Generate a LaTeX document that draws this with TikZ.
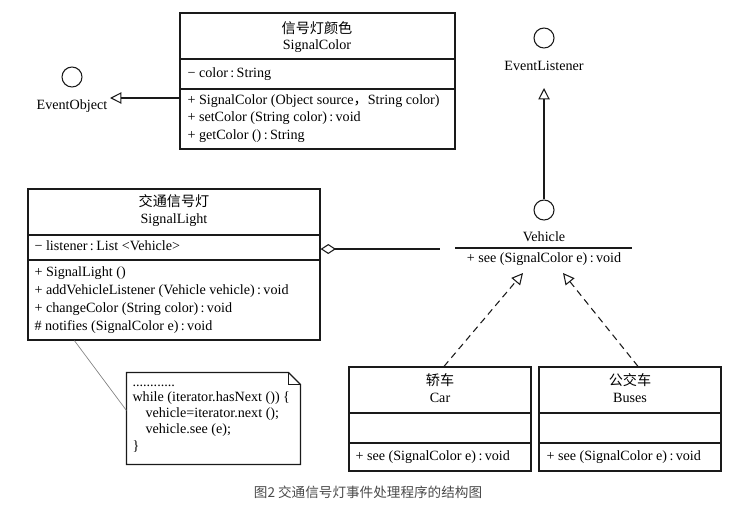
\documentclass[tikz,border=0pt]{standalone}
\usepackage{fontspec}
\setmainfont{Liberation Serif}
\newfontfamily\cjk{Noto Sans CJK SC}
\usetikzlibrary{arrows.meta, fit, calc}
\definecolor{cline}{HTML}{1A1A1A}
\definecolor{ccap}{HTML}{4A4A4A}
\tikzset{
  every picture/.style={line width=0.8pt, draw=cline},
  cls/.style={draw=cline, inner sep=0pt, line width=0.9pt},
  sep/.style={draw=cline, line width=0.8pt},
  txt/.style={anchor=west, inner sep=0pt, text height=7.5pt, text depth=2pt, font=\fontsize{10.6}{12}\selectfont},
  ctxt/.style={txt, anchor=center},
  iface/.style={circle, draw=cline, minimum size=15pt, inner sep=0pt},
  realize/.style={-{Triangle[open, length=8.5pt, width=8.5pt]}, draw=cline},
  impl/.style={realize, dash pattern=on 5pt off 3.5pt},
  aggr/.style={{Diamond[open, length=11.5pt, width=7.5pt]}-, draw=cline},
  noteline/.style={draw=gray, line width=0.5pt},
  caption/.style={font=\cjk\fontsize{10.2}{12}\selectfont, text=ccap},
}

\begin{document}
\begin{tikzpicture}[x=0.75pt, y=-0.75pt]
  \useasboundingbox (0,0) rectangle (737,507);

  % SignalColor
  \node[cls, fit={(180,13) (455,149)}] (sc) {};
  \draw[sep] (180,59) -- (455,59);
  \draw[sep] (180,89) -- (455,89);
  \node[ctxt] (sct1) at (317,30) {\cjk 信号灯颜色};
  \node[ctxt] (sct2) at (317,46) {SignalColor};
  \node[txt] (sca) at (187,74) {− color\,:\,String};
  \node[txt] (scm1) at (187,101) {+ SignalColor (Object source{\cjk ，}String color)};
  \node[txt] (scm2) at (187,118) {+ setColor (String color)\,:\,void};
  \node[txt] (scm3) at (187,136) {+ getColor ()\,:\,String};

  % EventObject
  \node[iface] (eo) at (72,77) {};
  \node[ctxt] (eolbl) at (72,106) {EventObject};
  \coordinate (eotip) at (110,98);
  \draw[realize] (sc.west |- eotip) -- (eotip);

  % EventListener and Vehicle
  \node[iface] (el) at (544,38) {};
  \node[ctxt] (ellbl) at (544,67) {EventListener};
  \node[iface] (vc) at (544,210) {};
  \node[ctxt] (vclbl) at (544,238) {Vehicle};
  \coordinate (eltip) at (544,88);
  \draw[realize] (vc.north) -- (eltip);
  \draw[sep] (455,248) -- (632,248);
  \node[ctxt] (vcm) at (544,259) {+ see (SignalColor e)\,:\,void};

  % SignalLight
  \node[cls, fit={(28,189) (320,340)}] (sl) {};
  \draw[sep] (28,235) -- (320,235);
  \draw[sep] (28,260) -- (320,260);
  \node[ctxt] (slt1) at (174,203) {\cjk 交通信号灯};
  \node[ctxt] (slt2) at (174,220) {SignalLight};
  \node[txt] (sla) at (34,247) {− listener\,:\,List <Vehicle>};
  \node[txt] (slm1) at (34,273) {+ SignalLight ()};
  \node[txt] (slm2) at (34,291) {+ addVehicleListener (Vehicle vehicle)\,:\,void};
  \node[txt] (slm3) at (34,309) {+ changeColor (String color)\,:\,void};
  \node[txt] (slm4) at (34,327) {\# notifies (SignalColor e)\,:\,void};
  \coordinate (aggend) at (440,249);
  \draw[aggr] (sl.east |- aggend) -- (aggend);

  % note
  \node[fit={(127,373) (300,464)}, inner sep=0pt] (note) {};
  \draw[cls] (note.north west) -- ($(note.north east)+(-12,0)$) -- ($(note.north east)+(0,12)$)
    -- (note.south east) -- (note.south west) -- cycle;
  \draw[line width=0.6pt] ($(note.north east)+(-12,0)$) -- ($(note.north east)+(-12,12)$) -- ($(note.north east)+(0,12)$);
  \node[txt] (n1) at (132,383) {............};
  \node[txt] (n2) at (132,398) {while (iterator.hasNext ()) \{};
  \node[txt] (n3) at (145,414) {vehicle=iterator.next ();};
  \node[txt] (n4) at (145,430) {vehicle.see (e);};
  \node[txt] (n5) at (132,447) {\}};
  \draw[noteline] ($(sl.south west)+(47,0)$) -- ($(note.west)+(0,-8)$);

  % Car
  \node[cls, fit={(349,367) (531,471)}] (car) {};
  \draw[sep] (349,413) -- (531,413);
  \draw[sep] (349,443) -- (531,443);
  \node[ctxt] (cart1) at (440,382) {\cjk 轿车};
  \node[ctxt] (cart2) at (440,399) {Car};
  \node[txt] (carm) at (355,457) {+ see (SignalColor e)\,:\,void};

  % Buses
  \node[cls, fit={(539,367) (721,471)}] (bus) {};
  \draw[sep] (539,413) -- (721,413);
  \draw[sep] (539,443) -- (721,443);
  \node[ctxt] (bust1) at (630,382) {\cjk 公交车};
  \node[ctxt] (bust2) at (630,399) {Buses};
  \node[txt] (busm) at (546,457) {+ see (SignalColor e)\,:\,void};

  \coordinate (cartip) at (523,273);
  \coordinate (bustip) at (563,273);
  \draw[impl] ($(car.north)+(4,0)$) -- (cartip);
  \draw[impl] ($(bus.north)+(8,0)$) -- (bustip);

  \node[caption] (cap) at (368,492) {图2 交通信号灯事件处理程序的结构图};
\end{tikzpicture}
\end{document}
